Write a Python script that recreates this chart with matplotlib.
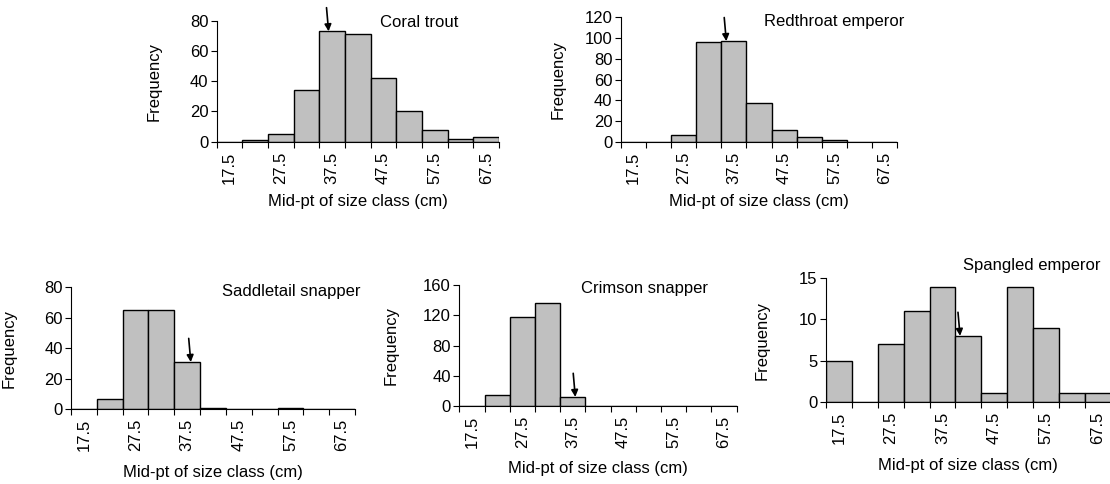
import matplotlib
matplotlib.use("Agg")
import matplotlib.pyplot as plt

plt.rcParams['font.family'] = ['Liberation Sans', 'DejaVu Sans']

# size classes (mid-points, cm), 5 cm wide
mids = [17.5, 22.5, 27.5, 32.5, 37.5, 42.5, 47.5, 52.5, 57.5, 62.5, 67.5]
shown_labels = [17.5, 27.5, 37.5, 47.5, 57.5, 67.5]

species = ["Coral trout", "Redthroat emperor", "Saddletail snapper",
           "Crimson snapper", "Spangled emperor"]
coral_trout = [0, 1, 5, 34, 73, 71, 42, 20, 8, 2, 3]
redthroat = [0, 0, 6, 96, 97, 37, 11, 5, 1.5, 0, 0]
saddletail = [0, 7, 65, 65, 31, 1, 0, 0, 1, 0, 0]
crimson = [0, 14, 118, 136, 12, 0, 0, 0, 0, 0, 0]
spangled = [5, 0, 7, 11, 14, 8, 1, 14, 9, 1, 1]
counts = [coral_trout, redthroat, saddletail, crimson, spangled]

# arrow positions (cm)
arrow_x = [36.8, 36.0, 38.2, 38.0, 40.9]

y_max = [80, 120, 80, 160, 15]
y_step = [20, 20, 20, 40, 5]

W, H = 1110, 484
FS = 12
# axes boxes in pixels: left, right, top, bottom
boxes = [(216.7, 499, 20.7, 141.7),
         (620.7, 897.3, 17.3, 141.7),
         (71, 355, 287.3, 409.3),
         (459.3, 736.7, 285, 406),
         (826, 1110.7, 278.3, 401.7)]
# species name: left x, centre y (pixels)
name_pos = [(380, 22.3), (764, 21.7), (221.7, 291.7), (580.7, 288.3), (962.7, 265.7)]
ylabel_x = [-0.195, -0.2, -0.19, -0.217, -0.197]
xlabel_pad = [7, 7, 10, 9, 10]

fig = plt.figure(figsize=(W / 100, H / 100), dpi=100)

for i in range(5):
    l, r, t, b = boxes[i]
    ax = fig.add_axes([l / W, 1 - b / H, (r - l) / W, (b - t) / H])
    ax.bar(mids, counts[i], width=5, color='#c0c0c0', edgecolor='black',
           linewidth=1.0, zorder=2)
    ax.set_xlim(15, 70)
    ax.set_ylim(0, y_max[i])
    ax.set_yticks(range(0, y_max[i] + 1, y_step[i]))
    ax.set_xticks(range(15, 71, 5))
    ax.set_xticklabels([])
    ax.set_xticks(shown_labels, minor=True)
    ax.set_xticklabels([f"{v:.1f}" for v in shown_labels], minor=True, rotation=90)
    ax.tick_params(axis='x', which='major', length=4, width=0.8, direction='out')
    ax.tick_params(axis='x', which='minor', length=0, pad=7)
    ax.tick_params(axis='y', length=4, width=0.8, pad=2)
    ax.tick_params(which='both', labelsize=FS)
    for s in ['top', 'right']:
        ax.spines[s].set_visible(False)
    for s in ['left', 'bottom']:
        ax.spines[s].set_linewidth(0.8)
    ax.set_xlabel("Mid-pt of size class (cm)", fontsize=FS, labelpad=xlabel_pad[i])
    ax.set_ylabel("Frequency", fontsize=FS)
    ax.yaxis.set_label_coords(ylabel_x[i], 0.5)

    k = mids.index(min(mids, key=lambda m: abs(m - arrow_x[i])))
    tip = counts[i][k]
    ax.annotate("", xy=(arrow_x[i], tip), xytext=(-1.5, 17), textcoords='offset points',
                arrowprops=dict(arrowstyle='-|>', color='black', lw=1.2,
                                mutation_scale=10, shrinkA=0, shrinkB=0),
                annotation_clip=False, zorder=5)

    nx, ny = name_pos[i]
    fig.text(nx / W, 1 - ny / H, species[i], fontsize=FS, ha='left', va='center')

fig.savefig("out.png", dpi=100)
